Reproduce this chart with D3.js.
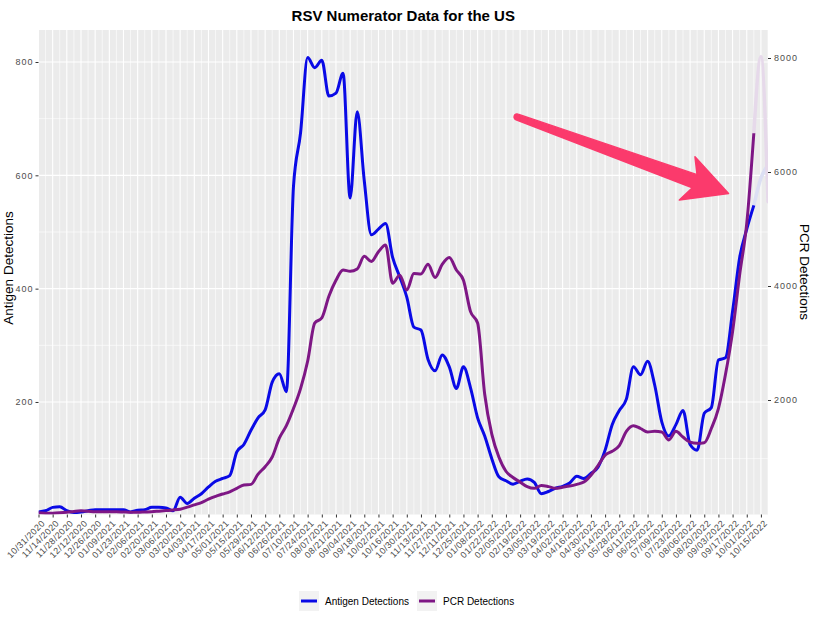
<!DOCTYPE html>
<html>
<head>
<meta charset="utf-8">
<script src="https://cdn.jsdelivr.net/npm/d3@7"></script>
<style>
  html, body { margin: 0; padding: 0; background: #ffffff; }
  svg { display: block; font-family: "Liberation Sans", Arial, Helvetica, sans-serif; }
</style>
</head>
<body>
<svg id="chart" width="831" height="626"></svg>
<script>
// ---------------- data (weekly) ----------------
const startDate = "2020-10-31";           // first weekly date
const weekCount = 104;                     // 10/31/2020 .. 10/22/2022

// Antigen detections (left axis)
const antigen = [
  6, 8, 14, 15, 8, 5, 6, 8, 10, 10,
  10, 10, 10, 6, 9, 10, 14, 14, 13, 8,
  32, 21, 30, 38, 50, 60, 65, 70, 112, 125,
  150, 172, 186, 235, 250, 218, 580, 675, 808, 790,
  803, 740, 745, 780, 560, 712, 590, 495, 505, 515,
  455, 421, 385, 332, 327, 275, 255, 283, 262, 224,
  262, 225, 172, 140, 100, 68, 61, 55, 60, 64,
  58, 38, 42, 48, 51, 57, 69, 65, 74, 85,
  115, 160, 185, 205, 262, 248, 272, 230, 165, 140,
  160, 185, 125, 115, 180, 190, 274, 278, 360, 455,
  505, 547, 595, 618
];

// PCR detections (right axis)
const pcr = [
  20, 15, 15, 20, 30, 45, 55, 50, 40, 40,
  40, 40, 35, 30, 30, 35, 40, 50, 60, 70,
  85, 120, 160, 200, 260, 310, 350, 390, 450, 510,
  520, 700, 830, 1000, 1330, 1550, 1850, 2200, 2680, 3350,
  3440, 3820, 4100, 4280, 4260, 4300, 4520, 4430, 4600, 4720,
  4050, 4190, 3930, 4220, 4210, 4380, 4150, 4380, 4500, 4280,
  4100, 3550, 3350, 2100, 1400, 1000, 750, 640, 560, 480,
  450, 500, 480, 450, 470, 490, 520, 560, 680, 850,
  1030, 1100, 1200, 1450, 1550, 1500, 1440, 1450, 1440, 1300,
  1450, 1350, 1260, 1240, 1250, 1500, 1850, 2450, 3200, 4200,
  5100, 6680, 8020, 5480
];

const fadedFrom = 101;                     // last weeks are washed out in the picture
const leftTicks = [200, 400, 600, 800];
const leftMinor = [100, 300, 500, 700];
const rightTicks = [2000, 4000, 6000, 8000];
const xTickEvery = 2;                      // a label every 2 weeks (10/31/2020 .. 10/15/2022)
const seriesNames = ["Antigen Detections", "PCR Detections"];
const seriesColors = ["#0a0ae6", "#7e1785"];
const titleText = "RSV Numerator Data for the US";
// annotation arrow, in data space (week index, antigen value)
const arrowTail = { week: 67.6, value: 703 };
const arrowTip  = { week: 97.5, value: 568 };

// ---------------- layout ----------------
const svg = d3.select("#chart");
const W = 831, H = 626;
const P = { left: 38.5, right: 768, top: 30, bottom: 514.5 };

const parse = d3.utcParse("%Y-%m-%d");
const d0 = parse(startDate);
const dates = d3.range(weekCount).map(i => d3.utcDay.offset(d0, 7 * i));

const x = d3.scaleUtc().domain([dates[0], dates[weekCount - 1]]).range([P.left, P.right]);
const yL = d3.scaleLinear().domain([0, 800]).range([515.3, 62]);
const yR = d3.scaleLinear().domain([0, 8000]).range([514, 58]);
const xw = w => x(d3.utcDay.offset(d0, 7 * w));

svg.append("rect").attr("width", W).attr("height", H).attr("fill", "#ffffff");

// panel
svg.append("rect")
  .attr("x", P.left).attr("y", P.top)
  .attr("width", P.right - P.left).attr("height", P.bottom - P.top)
  .attr("fill", "#ebebeb");

const grid = svg.append("g");
// vertical grid: every week (major at labelled weeks)
dates.forEach((d, i) => {
  grid.append("line")
    .attr("x1", x(d)).attr("x2", x(d))
    .attr("y1", P.top).attr("y2", P.bottom)
    .attr("stroke", "#ffffff")
    .attr("stroke-width", i % xTickEvery === 0 ? 1.1 : 0.6);
});
leftMinor.forEach(v => {
  grid.append("line").attr("x1", P.left).attr("x2", P.right)
    .attr("y1", yL(v)).attr("y2", yL(v))
    .attr("stroke", "#ffffff").attr("stroke-width", 0.6);
});
leftTicks.forEach(v => {
  grid.append("line").attr("x1", P.left).attr("x2", P.right)
    .attr("y1", yL(v)).attr("y2", yL(v))
    .attr("stroke", "#ffffff").attr("stroke-width", 1.1);
});

// clip
svg.append("clipPath").attr("id", "clip")
  .append("rect").attr("x", P.left).attr("y", P.top)
  .attr("width", P.right - P.left).attr("height", P.bottom - P.top);

const plot = svg.append("g").attr("clip-path", "url(#clip)");

const lineL = d3.line().x(d => x(d.date)).y(d => yL(d.v)).curve(d3.curveMonotoneX);
const lineR = d3.line().x(d => x(d.date)).y(d => yR(d.v)).curve(d3.curveMonotoneX);

const aData = antigen.map((v, i) => ({ date: dates[i], v }));
const pData = pcr.map((v, i) => ({ date: dates[i], v }));

// washed-out tails
plot.append("path").datum(aData.slice(fadedFrom))
  .attr("d", lineL).attr("fill", "none")
  .attr("stroke", "#dcdff3").attr("stroke-width", 3.5).attr("stroke-linecap", "round");
plot.append("path").datum(pData.slice(fadedFrom))
  .attr("d", lineR).attr("fill", "none")
  .attr("stroke", "#e6d9ea").attr("stroke-width", 3.5).attr("stroke-linecap", "round");

// main series
plot.append("path").datum(aData.slice(0, fadedFrom + 1))
  .attr("d", lineL).attr("fill", "none")
  .attr("stroke", seriesColors[0]).attr("stroke-width", 3).attr("stroke-linejoin", "round");
plot.append("path").datum(pData.slice(0, fadedFrom + 1))
  .attr("d", lineR).attr("fill", "none")
  .attr("stroke", seriesColors[1]).attr("stroke-width", 3).attr("stroke-linejoin", "round");

// ---------------- axes ----------------
const tickCol = "#333333", labCol = "#4d4d4d";

const gL = svg.append("g").attr("transform", `translate(${P.left},0)`)
  .call(d3.axisLeft(yL).tickValues(leftTicks).tickFormat(d3.format("d")).tickSize(3).tickPadding(2));
const gR = svg.append("g").attr("transform", `translate(${P.right},0)`)
  .call(d3.axisRight(yR).tickValues(rightTicks).tickFormat(d3.format("d")).tickSize(3).tickPadding(3));
const tickDates = dates.filter((d, i) => i % xTickEvery === 0 && i <= 102);
const gX = svg.append("g").attr("transform", `translate(0,${P.bottom})`)
  .call(d3.axisBottom(x).tickValues(tickDates).tickFormat(d3.utcFormat("%m/%d/%Y")).tickSize(3));

[gL, gR, gX].forEach(g => {
  g.select(".domain").remove();
  g.selectAll(".tick line").attr("stroke", tickCol).attr("stroke-width", 1);
  g.selectAll(".tick text").attr("fill", labCol).style("font-size", "9px")
    .style("font-family", '"Liberation Sans", Arial, sans-serif');
});
gL.selectAll(".tick text").style("letter-spacing", "1px");
gR.selectAll(".tick text").style("letter-spacing", "1px");
gX.selectAll(".tick text")
  .attr("text-anchor", "end")
  .attr("x", 0).attr("y", 0).attr("dy", "0.7em")
  .style("letter-spacing", "0.4px")
  .attr("transform", "translate(2,5) rotate(-45)");

// axis titles
svg.append("text")
  .attr("transform", `translate(13,268) rotate(-90)`)
  .attr("text-anchor", "middle").attr("fill", "#000").style("font-size", "13.5px")
  .text("Antigen Detections");
svg.append("text")
  .attr("transform", `translate(800,272) rotate(90)`)
  .attr("text-anchor", "middle").attr("fill", "#000").style("font-size", "13.5px")
  .text("PCR Detections");

// title
svg.append("text")
  .attr("x", (P.left + P.right) / 2).attr("y", 21)
  .attr("text-anchor", "middle").attr("fill", "#000")
  .style("font-size", "15px").style("font-weight", "bold")
  .text(titleText);

// ---------------- legend ----------------
const legend = svg.append("g");
const legendItems = [
  { name: seriesNames[0], color: seriesColors[0], x: 299 },
  { name: seriesNames[1], color: seriesColors[1], x: 417 }
];
legendItems.forEach(it => {
  legend.append("rect").attr("x", it.x).attr("y", 591).attr("width", 20).attr("height", 20)
    .attr("fill", "#f2f2f2");
  legend.append("line").attr("x1", it.x + 2).attr("x2", it.x + 18)
    .attr("y1", 601).attr("y2", 601)
    .attr("stroke", it.color).attr("stroke-width", 3);
  legend.append("text").attr("x", it.x + 26).attr("y", 605)
    .attr("fill", "#000").style("font-size", "10px").text(it.name);
});

// ---------------- annotation arrow ----------------
(function drawArrow() {
  const T = [xw(arrowTail.week), yL(arrowTail.value)];
  const Tp = [xw(arrowTip.week), yL(arrowTip.value)];
  const dx = Tp[0] - T[0], dy = Tp[1] - T[1];
  const len = Math.hypot(dx, dy);
  const u = [dx / len, dy / len];
  const n = [-u[1], u[0]];
  const at = (dist, off) => [T[0] + u[0] * dist + n[0] * off, T[1] + u[1] * dist + n[1] * off];
  const headLen = 44, barb = 23, joinBack = 36, wTail = 3, wHead = 7;
  const tailU = at(0, -wTail), tailD = at(0, wTail);
  const joinU = at(len - joinBack, -wHead), joinD = at(len - joinBack, wHead);
  const barbU = at(len - headLen, -barb), barbD = at(len - headLen, barb);
  const p = d3.path();
  p.moveTo(...tailU);
  p.lineTo(...joinU);
  p.lineTo(...barbU);
  p.lineTo(...Tp);
  p.lineTo(...barbD);
  p.lineTo(...joinD);
  p.lineTo(...tailD);
  p.arc(T[0], T[1], wTail, Math.atan2(n[1], n[0]), Math.atan2(-n[1], -n[0]), false);
  p.closePath();
  svg.append("path").attr("d", p.toString())
    .attr("fill", "#fb3a6c").attr("stroke", "#fb3a6c")
    .attr("stroke-width", 1.5).attr("stroke-linejoin", "round");
})();
</script>
</body>
</html>
